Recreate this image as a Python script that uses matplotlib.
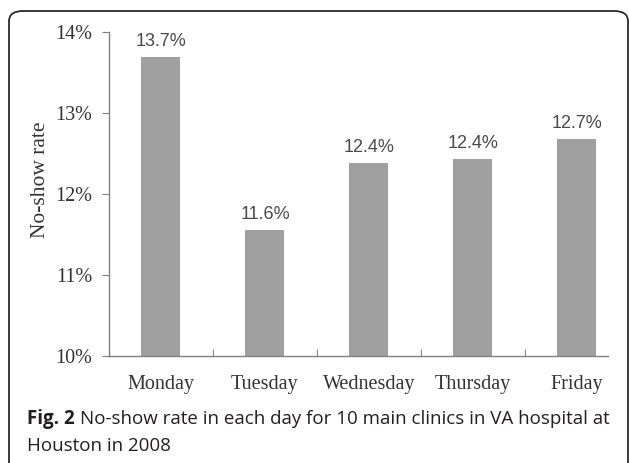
import matplotlib.pyplot as plt
from matplotlib.patches import FancyBboxPatch
from matplotlib.ticker import FuncFormatter

# Data
days = ['Monday', 'Tuesday', 'Wednesday', 'Thursday', 'Friday']
rates = [13.69, 11.56, 12.38, 12.43, 12.68]
labels = ['13.7%', '11.6%', '12.4%', '12.4%', '12.7%']
yticks = [10, 11, 12, 13, 14]

W, H = 629, 463
fig = plt.figure(figsize=(W / 100, H / 100), dpi=100)

# Rounded frame around figure + caption
frame = FancyBboxPatch((9 / W, -20 / H), 619 / W, (H - 11 + 20) / H,
                       boxstyle='round,pad=0,rounding_size=0.022',
                       transform=fig.transFigure, fill=False,
                       edgecolor='#2b2b2b', linewidth=1.3, clip_on=False)
fig.patches.append(frame)

ax = fig.add_axes([109 / W, 1 - 356 / H, (608 - 109) / W, (356 - 32) / H])

x = range(len(days))
ax.bar(x, [r - 10 for r in rates], bottom=10, width=0.375, color='#a0a0a0')

for xi, r, lab in zip(x, rates, labels):
    ax.annotate(lab, (xi, r), xytext=(0, 5), textcoords='offset points',
                ha='center', va='bottom', fontsize=13, color='#4a4a4a',
                family='Liberation Sans')

ax.set_ylim(10, 14)
ax.set_xlim(-0.5, 4.3)
ax.set_yticks(yticks)
ax.yaxis.set_major_formatter(FuncFormatter(lambda v, p: f'{v:.0f}%'))

# category ticks sit between the bars
ax.set_xticks([i + 0.5 for i in range(4)])
ax.set_xticklabels([])
ax.set_xticks(list(x), minor=True)
ax.set_xticklabels(days, minor=True)
ax.tick_params(axis='x', which='minor', length=0, pad=14)
ax.tick_params(axis='x', which='major', length=5, color='#808080', direction='in')
ax.tick_params(axis='y', length=5, color='#808080', pad=7)

for lab in ax.get_xticklabels(minor=True) + ax.get_yticklabels():
    lab.set_family('Liberation Serif')
    lab.set_fontsize(14.5)
    lab.set_color('#333333')

for s in ['top', 'right']:
    ax.spines[s].set_visible(False)
for s in ['left', 'bottom']:
    ax.spines[s].set_color('#808080')
    ax.spines[s].set_linewidth(1.0)

ax.set_ylabel('No-show rate', family='Liberation Serif', fontsize=15.5,
              color='#333333')
ax.yaxis.set_label_coords(-0.118, 0.543)

# Caption: bold "Fig. 2" followed by regular text
cap_x, cap_y1, cap_y2 = 27, 424, 451
bold = fig.text(cap_x / W, 1 - cap_y1 / H, 'Fig. 2', fontsize=13.5,
                family='Open Sans', weight='bold', color='#231f20')
fig.canvas.draw()
bb = bold.get_window_extent()
fig.text(bb.x1 / W + 5 / W, 1 - cap_y1 / H,
         'No-show rate in each day for 10 main clinics in VA hospital at',
         fontsize=13.5, family='Open Sans', color='#231f20')
fig.text(cap_x / W, 1 - cap_y2 / H, 'Houston in 2008',
         fontsize=13.5, family='Open Sans', color='#231f20')

fig.savefig('out.png', dpi=100)
